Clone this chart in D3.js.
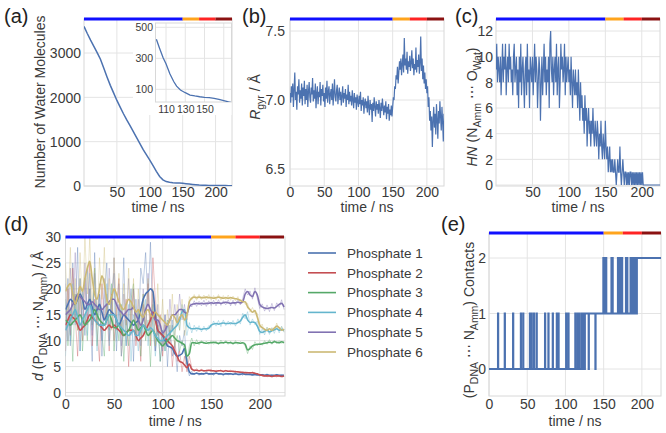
<!DOCTYPE html>
<html><head><meta charset="utf-8">
<script src="https://cdn.jsdelivr.net/npm/d3@7"></script>
<style>
body{margin:0;background:#fff;}
svg{display:block;}
</style></head><body>
<svg id="c" width="666" height="433"></svg>
<script>
// ---------------- DATA ----------------
const phaseBounds = [0, 150, 175, 200, 225];
const phaseColors = ["#1010ff", "#ffa41c", "#ff2424", "#8b1212"];

// (a) water molecules, every 5 ns
const waterT = d3.range(0, 226, 5);
const waterV = [3600,3440,3290,3150,3010,2860,2660,2460,2270,2100,1930,1780,1630,1490,1360,1225,1090,955,820,700,
  585,460,330,215,140,100,85,75,70,65,60,52,45,36,28,20,17,15,13,12,11,10,9,9,8,8];
// (a) inset
const insetT = [100,103,107,110,114,118,121,125,130,135,140,145,150,155,160,165,170,175,177];
const insetV = [423,370,304,265,200,150,120,95,78,63,57,52,48,46,42,35,27,19,17];
const insetXTicks = [110,130,150];
const insetYTicks = [100,300,500];

// (b) radius of gyration, every 1 ns
const rgyrT = d3.range(0, 226, 1);
const rgyrV = [
7.05,6.98,7.10,7.02,7.12,6.95,7.08,7.20,7.00,7.06,
6.93,7.10,7.04,7.15,6.98,7.07,7.01,7.12,6.96,7.09,
7.03,7.14,6.97,7.08,7.00,7.11,6.95,7.06,7.13,7.02,
6.98,7.09,7.04,7.16,6.99,7.07,7.01,7.12,6.94,7.05,
7.10,6.97,7.06,7.02,7.13,6.96,7.08,7.03,7.11,6.99,
7.05,6.95,7.09,7.01,7.14,6.98,7.06,7.10,6.97,7.04,
7.08,7.00,7.12,6.96,7.05,7.15,7.02,6.99,7.07,7.11,
6.97,7.04,7.09,7.00,7.06,6.96,7.03,7.10,6.98,7.05,
7.01,7.08,6.95,7.04,7.00,7.11,6.97,7.06,6.99,7.03,
6.96,7.07,7.00,6.94,7.05,6.98,7.02,6.93,7.04,6.99,
6.95,7.03,6.97,7.06,6.92,7.00,6.96,7.02,6.90,6.98,
7.01,6.94,6.99,6.91,7.03,6.95,6.89,7.00,6.93,6.97,
6.84,6.98,6.92,7.02,6.95,6.88,6.99,6.93,6.97,6.90,
7.00,6.94,6.87,6.98,6.92,7.01,6.95,6.89,6.96,6.91,
6.99,6.86,6.95,6.90,6.97,6.85,6.93,6.89,6.96,6.88,
6.95,7.02,7.00,7.10,7.08,7.18,7.15,7.24,7.12,7.20,
7.28,7.22,7.30,7.18,7.26,7.33,7.20,7.45,7.25,7.30,
7.22,7.35,7.19,7.28,7.24,7.32,7.21,7.27,7.36,7.23,
7.30,7.18,7.26,7.22,7.38,7.20,7.29,7.24,7.33,7.19,
7.27,7.46,7.21,7.30,7.15,7.25,7.12,7.20,7.08,7.15,
7.05,7.10,6.95,7.02,6.85,6.92,6.78,6.88,6.66,6.85,
6.95,6.80,6.90,6.75,6.97,6.86,6.72,6.92,6.83,6.99,
6.88,6.78,6.95,6.84,6.70,6.90];

// (c) hydration number, every 1 ns
const hnT = d3.range(0, 226, 1);
const hnV = [
9,11,8,10,9,8,10,7,9,11, 8,10,9,11,7,9,10,8,11,9, 10,8,9,7,10,11,8,9,10,7,
9,6,10,8,11,7,9,10,8,6, 9,10,7,11,8,9,6,10,9,8, 10,7,9,11,8,10,9,6,8,10,
9,5,8,10,7,9,11,8,10,7, 9,8,10,6,11,12,9,8,10,7, 9,10,8,11,7,9,10,6,8,11,
9,10,8,9,11,7,10,8,9,10, 8,9,7,10,8,6,9,8,7,9, 7,8,6,9,7,5,8,6,7,5,
6,4,7,5,6,3,5,6,4,5, 3,5,4,6,4,3,5,4,3,5, 4,2,4,3,5,3,2,4,3,2,
5,3,2,3,1,2,3,1,2,1, 2,1,1,2,1,0,1,2,1,1, 3,1,0,1,2,1,0,1,1,0,
1,0,1,0,1,1,0,1,0,1, 0,1,0,1,0,1,0,1,0,1, 0,1,0,0,0,0,0,0,0,0,
0,0,0,0,0,0,0,0,0,0, 0,0,0,0,0,0];

// (d) P...N distances, every 2.5 ns
const distT = d3.range(0, 226, 2.5);
const phosphateNames = ["Phosphate 1","Phosphate 2","Phosphate 3","Phosphate 4","Phosphate 5","Phosphate 6"];
const phosphateColors = ["#4C72B0","#C44E52","#55A868","#64B5CD","#8172B2","#CCB974"];
const p1Smooth = [16,17,18,17.5,17,18,19,18,16,17, 18,16.5,15,16,17,15.5,14,15,16,15.5, 15,14,13,14,15,14.5,14,13.5,13,13.5,
  14,16,18,19,19.5,20,19.5,15,12,11.5, 11,10,9,8.8,8.5,7.5,7,7.2,7.5,8.5, 6,4,3.6,3.6,3.7,3.6,3.6,3.6,3.7,3.6,
  3.6,3.6,3.7,3.6,3.6,3.5,3.6,3.6,3.6,3.5, 3.6,3.5,3.5,3.6,3.5,3.5,3.5,3.4,3.5,3.4, 3.4,3.4,3.3,3.4,3.3,3.3,3.3,3.4,3.3,3.3, 3.3];
const p2Smooth = [13,14,15,14.5,14,13,12,12.5,13,14, 15,14.5,14,13.5,13,12.5,12,12.5,13,12.5, 13,12.5,12,11.5,11,11.5,12,12,12,11,
  10,10.5,11,12,13,14,15.5,14,12,11.5, 11,10.5,10,9.5,9,8,7,6,5.8,5.3, 4.8,5.5,4.5,4.3,4.3,4.2,4.3,4.2,4.2,4.3,
  4.2,4.2,4.1,4.2,4.2,4.1,4.2,4.1,4.1,4.1, 4.0,4.0,3.9,3.9,3.8,3.8,3.8,3.8,3.7,3.6, 3.4,3.3,3.2,3.2,3.2,3.1,3.2,3.2,3.2,3.1, 3.2];
const p3Smooth = [14,13.5,13,13.5,14,14.5,15,14,13,13.5, 14,15,16,15,14,13.5,13,14,15,14, 12.5,12.5,13,12,11,11.5,12,13,14,13,
  12,12.5,13,12,11,11.5,12,11,10,9.5, 9,9.5,10,10.5,11,10.5,10,9.8,9.5,9.2, 7,7.5,9.6,9.6,9.5,9.6,9.7,9.6,9.5,9.6,
  9.6,9.7,9.6,9.5,9.6,9.6,9.7,9.6,9.6,9.5, 9.6,9.6,9.5,9.6,9.3,8.2,8.5,9,9.2,9.3, 9.3,9.4,9.5,9.6,9.7,9.6,9.8,9.7,9.6,9.8, 9.6];
const p4Smooth = [12,13,14,15,16,14.5,13,14,15,16, 17,15.5,14,13.5,13,13,13,14,15,15, 15,14,13,12.5,12,11.5,11,11.5,12,11,
  11,12,13,12.5,12,12.5,12,11,10.5,10, 10,10.5,11,11.5,12,12.5,13,14,15.5,16, 13,12.5,12.3,12.3,12.4,12.3,12.2,12.3,12.3,12.4,
  13,13.2,13.3,13.2,13.3,13.4,13.3,13.3,13.4,13.3, 13.3,13.5,13.8,14.5,15,14,13.5,13.6,13.5,12.8, 11.8,11.6,11.8,12,11.7,11.9,12.1,12.3,12,12.2, 12];
const p5Smooth = [15,15.5,16,17,18,19,18.5,18,17.5,17, 17,17.5,17,16.5,16,16,16.5,17,17.5,18, 18,17,16,15.5,15,15.5,16,16,16.5,15,
  14,13,14,16,17,16,15,14,14,13, 11.5,12,13,14,15,15,15.5,16,16,15.5, 15.3,16.5,17,17.1,17.2,17.1,17.2,17.1,17.2,17.2,
  17.3,17.2,17.3,17.3,17.2,17.3,17.4,17.3,17.2,17.3, 17.3,17.4,17.3,17.5,19,19.5,18.8,18.5,19.5,18.8, 17,16.5,16.3,16.2,16.3,16.4,16.3,16.6,17,17.2, 16.5];
const p6Smooth = [19.5,20.5,21,19,17,18.5,20.5,19.5,22,24, 25.3,22,19,18,20,22.5,21,18,17,18.5, 20,19,17.5,16.5,16,17,18,17.5,16.5,15.5,
  16,15,14.5,15.5,16,15,14.5,15.5,15,14.5, 14,13.5,13,14,15,14.5,13.5,14.5,15,14, 15,17.5,18.2,18.4,18.3,18.4,18.3,18.3,18.4,18.3,
  18.3,18.2,18.3,18.4,18.3,18.2,18.3,18.2,18.3,18.2, 18.1,18,17.8,17.5,17.5,16.5,16,15.5,15.8,14.5, 13,12.5,12.2,12,12.3,12,12.4,12.8,12.5,12, 12.2];
const p1Raw = [12,22,9,25,14,28,8,20,11,24, 16,6,27,13,21,7,18,25,10,19, 23,8,17,12,26,9,15,20,6,18, 11,24,21,27,17,29,13,8,14,6,
  10,15,5,13,7,9,4,11,9,12, 5,3.2,4.1,3.4,3.9,3.3,3.8,3.5,4,3.4, 3.7,3.3,3.9,3.5,3.6,3.2,3.8,3.4,3.7,3.5,
  3.9,3.4,3.6,3.3,3.8,3.5,3.4,3.7,3.3,3.6, 3.2,3.5,3.3,3.6,3.2,3.4,3.1,3.5,3.3,3.4, 3.3];
const p2Raw = [8,20,11,24,15,7,19,10,22,13, 25,9,18,12,6,21,14,17,8,19, 10,16,22,7,13,18,5,15,20,9, 14,6,17,12,21,9,26,18,11,15,
  7,13,9,12,5,10,6,8,4,7, 4,7,4.8,4,4.6,4.1,4.5,4,4.4,4.2, 4.5,3.9,4.3,4.1,4.4,3.9,4.3,4.1,4.3,3.9,
  4.2,3.8,4.1,3.7,4,3.9,3.6,4,3.7,3.5, 3.5,3.2,3.4,3,3.3,3.1,3.3,3,3.3,3.1, 3.2];
const p3Raw = [18,9,16,6,19,12,22,8,15,10, 20,13,24,9,17,11,7,19,12,21, 8,15,10,17,6,14,9,18,21,11, 16,7,19,10,14,5,17,9,13,6,
  12,8,14,11,13,9,11,8,10,8, 5.5,9,10.5,9,10.2,9.2,10,9.4,9.9,9.3, 10,9.3,9.9,9.2,10.1,9.4,10,9.3,9.9,9.2,
  10,9.3,9.8,9.5,9,7.5,9,8.3,9.8,9, 9.6,9.1,10,9.3,10.2,9.3,10.1,9.4,10,9.5, 9.8];
const p4Raw = [7,17,10,21,13,19,8,16,22,11, 23,12,17,8,19,10,15,21,9,18, 20,10,16,7,14,9,17,6,15,12, 8,16,11,18,9,15,13,7,12,9,
  12,8,13,10,14,11,15,12,17,14, 11,13.5,11.5,13,11.8,12.9,11.7,12.8,11.9,12.9, 12.6,13.8,12.8,13.9,12.7,14,12.9,13.8,13,13.9,
  12.8,14.2,13.2,15.3,14.2,15.6,13,14.2,13.1,13.8, 11.2,12.3,11.1,12.6,11.2,12.5,11.4,12.8,11.5,12.8, 11.6];
const p5Raw = [21,10,24,13,27,15,22,12,25,14, 20,11,23,14,19,10,22,13,24,15, 26,12,21,9,19,13,22,11,20,10, 18,9,20,12,23,11,19,8,17,10,
  8,15,10,18,12,17,13,19,14,17, 14,17.5,16.5,17.7,16.6,17.6,16.7,17.8,16.6,17.7, 16.8,17.8,16.7,17.9,16.8,17.7,16.9,17.9,16.7,17.8,
  16.8,18,16.9,18.2,20,18.8,19.6,18,20.2,18.2, 16.2,17.1,15.7,16.9,15.6,17.2,15.8,17.3,16.4,17.9, 16];
const p6Raw = [25,15,28,14,22,12,27,16,30,19, 30,17,24,13,26,18,28,14,22,12, 26,15,23,11,21,13,24,12,22,10, 20,11,19,12,22,10,20,9,21,11,
  18,9,16,11,19,10,17,12,18,11, 13,18.5,17.8,18.9,17.8,18.9,17.9,18.8,17.8,18.9, 17.9,18.7,17.8,18.9,17.8,18.7,17.9,18.8,17.8,18.6,
  17.7,18.5,17.3,18,17,17.2,15.5,16.4,15.2,15.3, 12.5,13.2,11.6,12.6,11.7,12.5,11.9,13.4,12,12.7, 11.7];
const distSmooth = [p1Smooth,p2Smooth,p3Smooth,p4Smooth,p5Smooth,p6Smooth];
const distRaw = [p1Raw,p2Raw,p3Raw,p4Raw,p5Raw,p6Raw];

// (e) contacts: change times and values after each change
const contactT = [0,11.6,12.2,20.4,21,31.3,31.9,41.5,42,44.5,45.1,53.3,53.9,55.5,56.1,58.6,59.2,62.1,62.7,
  73.1,73.7,77.5,78.1,83.2,83.8,88.5,89.1,90.7,91.3,100.7,101.3,103.7,104.3,112.7,113.3,115.7,116.3,118.3,118.9,
  121.4,122,123.5,125,125.6,130.2,130.8,139,139.6,
  149.4,150,150.6,151.2,153,153.6,160,160.6,161.5,162,168.5,169,170,170.6,171.8,172.4,173.6,174.4,
  179,179.6,180.6,181.2,185,185.6,186.8,187.4,189,189.6,191.2,191.8,193.6,225];
const contactV = [0,1,0,1,0,1,0,1,0,1,0,1,0,1,0,1,0,1,0,
  1,0,1,0,1,0,1,0,1,0,1,0,1,0,1,0,1,0,1,0,
  1,0,1,0,1,0,1,0,1,
  2,1,2,1,2,1,2,1,2,1,2,1,2,1,2,1,2,1,
  2,1,2,1,2,1,2,1,2,1,2,1,2,2];

// ---------------- DRAWING ----------------
const FONT = "'Liberation Sans', Arial, sans-serif";
const GRID = "#e4e4e4", FRAME = "#d8d8d8", TXT = "#3a3a3a", LINE = "#4C72B0";
const svg = d3.select("#c").attr("font-family", FONT);
let clipId = 0;

function panel(o) {
  const x = d3.scaleLinear().domain(o.xd).range(o.xr);
  const y = d3.scaleLinear().domain(o.yd).range(o.yr);
  const g = svg.append("g");
  g.append("rect").attr("x", o.l).attr("y", o.t).attr("width", o.r - o.l).attr("height", o.b - o.t).attr("fill", "#fff");
  g.selectAll(null).data(o.xg).join("line")
    .attr("x1", d => x(d)).attr("x2", d => x(d)).attr("y1", o.t).attr("y2", o.b)
    .attr("stroke", GRID).attr("stroke-width", 1);
  g.selectAll(null).data(o.yg).join("line")
    .attr("y1", d => y(d)).attr("y2", d => y(d)).attr("x1", o.l).attr("x2", o.r)
    .attr("stroke", GRID).attr("stroke-width", 1);
  g.append("rect").attr("x", o.l).attr("y", o.t).attr("width", o.r - o.l).attr("height", o.b - o.t)
    .attr("fill", "none").attr("stroke", FRAME).attr("stroke-width", 1);
  // axes
  const fs = o.fs || 14;
  const ax = g.append("g").attr("transform", `translate(0,${o.b})`)
    .call(d3.axisBottom(x).tickValues(o.xl).tickSize(0).tickFormat(o.xf || d3.format("d")));
  ax.select(".domain").remove();
  ax.attr("font-size", fs).attr("font-family", FONT);
  ax.selectAll("text").attr("dy", 0).attr("y", o.xBase - o.b).attr("fill", TXT);
  const ay = g.append("g").attr("transform", `translate(${o.l},0)`)
    .call(d3.axisLeft(y).tickValues(o.yl).tickSize(0).tickPadding(o.l - o.yRight).tickFormat(o.yf || d3.format("d")));
  ay.select(".domain").remove();
  ay.attr("font-size", fs).attr("font-family", FONT);
  ay.selectAll("text").attr("fill", TXT).attr("dy", "0.34em");
  const id = "clip" + (clipId++);
  svg.append("clipPath").attr("id", id).append("rect")
    .attr("x", o.l).attr("y", o.t).attr("width", o.r - o.l).attr("height", o.b - o.t);
  const data = svg.append("g").attr("clip-path", `url(#${id})`);
  return { x, y, g, data, o };
}

function phaseBar(p) {
  const segs = d3.range(phaseColors.length);
  svg.append("g").selectAll("line").data(segs).join("line")
    .attr("x1", i => p.x(phaseBounds[i])).attr("x2", i => p.x(phaseBounds[i + 1]))
    .attr("y1", p.o.t).attr("y2", p.o.t)
    .attr("stroke", i => phaseColors[i]).attr("stroke-width", 3);
}

function letter(txt, x, y) {
  svg.append("text").attr("x", x).attr("y", y).attr("font-size", 20).attr("fill", "#222").text(txt);
}
function xTitle(p, base) {
  svg.append("text").attr("x", (p.o.l + p.o.r) / 2).attr("y", base).attr("text-anchor", "middle")
    .attr("font-size", 14).attr("fill", TXT).text("time / ns");
}
// parts: [text, style] style: "i" italic, "s" subscript, "" normal
function yTitle(cx, cy, parts) {
  const t = svg.append("text").attr("transform", `translate(${cx},${cy}) rotate(-90)`)
    .attr("text-anchor", "middle").attr("dy", "0.35em").attr("font-size", 14).attr("fill", TXT);
  let sub = false;
  parts.forEach(([s, st]) => {
    const ts = t.append("tspan").text(s);
    if (st === "i") ts.attr("font-style", "italic");
    if (st === "s") { ts.attr("font-size", 10.5); if (!sub) ts.attr("dy", 4); sub = true; }
    else { if (sub) ts.attr("dy", -4); sub = false; }
  });
}

// ---- (a)
const pa = panel({ l: 84, r: 232, t: 19, b: 186, xd: [0, 225], xr: [84, 232], yd: [0, 3000], yr: [186, 53],
  xg: [50, 100, 150, 200], yg: [0, 1000, 2000, 3000], xl: [50, 100, 150, 200], yl: [0, 1000, 2000, 3000],
  xBase: 196.5, yRight: 81 });
pa.data.append("path").datum(waterT.map((t, i) => [t, waterV[i]]))
  .attr("d", d3.line().x(d => pa.x(d[0])).y(d => pa.y(d[1])))
  .attr("fill", "none").attr("stroke", LINE).attr("stroke-width", 1.5);
// inset
svg.append("rect").attr("x", 133).attr("y", 21).attr("width", 98.5).attr("height", 94).attr("fill", "#fff");
const pin = panel({ l: 155.5, r: 231.5, t: 23, b: 102, xd: [110, 150], xr: [166, 204.5], yd: [100, 500], yr: [89.3, 27.3],
  xg: [110, 130, 150, 170], yg: [100, 300, 500], xl: insetXTicks, yl: insetYTicks, xBase: 113, yRight: 153, fs: 10.5 });
pin.data.append("path").datum(insetT.map((t, i) => [t, insetV[i]]))
  .attr("d", d3.line().x(d => pin.x(d[0])).y(d => pin.y(d[1])))
  .attr("fill", "none").attr("stroke", LINE).attr("stroke-width", 1.3);
phaseBar(pa);
letter("(a)", 4, 23);
xTitle(pa, 212);
yTitle(40, 102, [["Number of Water Molecules", ""]]);

// ---- (b)
const pb = panel({ l: 290, r: 444, t: 19, b: 186, xd: [0, 225], xr: [290, 444], yd: [6.5, 7.5], yr: [169, 31],
  xg: [0, 50, 100, 150, 200], yg: [6.5, 7.0, 7.5], xl: [0, 50, 100, 150, 200], yl: [6.5, 7.0, 7.5],
  xBase: 196.5, yRight: 285, yf: d3.format(".1f") });
pb.data.append("path").datum(rgyrT.map((t, i) => [t, rgyrV[i]]))
  .attr("d", d3.line().x(d => pb.x(d[0])).y(d => pb.y(d[1])))
  .attr("fill", "none").attr("stroke", LINE).attr("stroke-width", 1.2);
phaseBar(pb);
letter("(b)", 242, 23);
xTitle(pb, 212);
yTitle(255, 97, [["R", "i"], ["gyr", "s"], [" / Å", ""]]);

// ---- (c)
const pc = panel({ l: 496, r: 660, t: 19, b: 186, xd: [0, 225], xr: [496, 660], yd: [0, 12], yr: [185, 31],
  xg: [50, 100, 150, 200], yg: [0, 2, 4, 6, 8, 10, 12], xl: [50, 100, 150, 200], yl: [0, 2, 4, 6, 8, 10, 12],
  xBase: 196.5, yRight: 493 });
pc.data.append("path").datum(hnT.map((t, i) => [t, hnV[i]]))
  .attr("d", d3.line().x(d => pc.x(d[0])).y(d => pc.y(d[1])))
  .attr("fill", "none").attr("stroke", LINE).attr("stroke-width", 1.2);
phaseBar(pc);
letter("(c)", 455, 23);
xTitle(pc, 212);
yTitle(472, 107, [["HN", "i"], [" (N", ""], ["Amm", "s"], [" \u22EF O", ""], ["Wat", "s"], [")", ""]]);

// ---- (d)
const pd = panel({ l: 65.5, r: 285, t: 237, b: 396, xd: [0, 226], xr: [65.5, 285], yd: [0, 30], yr: [392.5, 237],
  xg: [0, 50, 100, 150, 200], yg: [0, 5, 10, 15, 20, 25, 30], xl: [0, 50, 100, 150, 200], yl: [0, 5, 10, 15, 20, 25, 30],
  xBase: 408.5, yRight: 61 });
const dLine = d3.line().x(d => pd.x(d[0])).y(d => pd.y(d[1]));
distRaw.forEach((arr, k) => {
  pd.data.append("path").datum(distT.map((t, i) => [t, arr[i]]))
    .attr("d", dLine).attr("fill", "none").attr("stroke", phosphateColors[k])
    .attr("stroke-width", 1).attr("stroke-opacity", 0.35);
});
distSmooth.forEach((arr, k) => {
  pd.data.append("path").datum(distT.map((t, i) => [t, arr[i]]))
    .attr("d", dLine.curve(d3.curveMonotoneX)).attr("fill", "none").attr("stroke", phosphateColors[k])
    .attr("stroke-width", 1.6);
});
phaseBar(pd);
letter("(d)", 4, 231);
xTitle(pd, 426);
yTitle(38, 316, [["d", "i"], [" (P", ""], ["DNA", "s"], [" \u22EF N", ""], ["Amm", "s"], [") / Å", ""]]);

// legend
const lg = svg.append("g");
phosphateNames.forEach((nm, k) => {
  const yy = 253 + k * 19.8;
  lg.append("line").attr("x1", 308).attr("x2", 336).attr("y1", yy).attr("y2", yy)
    .attr("stroke", phosphateColors[k]).attr("stroke-width", 1.6);
  lg.append("text").attr("x", 347).attr("y", yy).attr("dy", "0.35em").attr("font-size", 13.5)
    .attr("fill", TXT).text(nm);
});

// ---- (e)
const pe = panel({ l: 489, r: 661, t: 233, b: 396, xd: [0, 225], xr: [489, 661], yd: [0, 2], yr: [369, 258],
  xg: [0, 50, 100, 150, 200], yg: [0, 1, 2], xl: [0, 50, 100, 150, 200], yl: [0, 1, 2],
  xBase: 408.5, yRight: 486 });
pe.data.append("path").datum(contactT.map((t, i) => [t, contactV[i]]))
  .attr("d", d3.line().curve(d3.curveStepAfter).x(d => pe.x(d[0])).y(d => pe.y(d[1])))
  .attr("fill", "none").attr("stroke", LINE).attr("stroke-width", 1.8);
phaseBar(pe);
letter("(e)", 441, 231);
xTitle(pe, 426);
yTitle(469, 320, [["(P", ""], ["DNA", "s"], [" \u22EF N", ""], ["Amm", "s"], [") Contacts", ""]]);
</script>
</body></html>
